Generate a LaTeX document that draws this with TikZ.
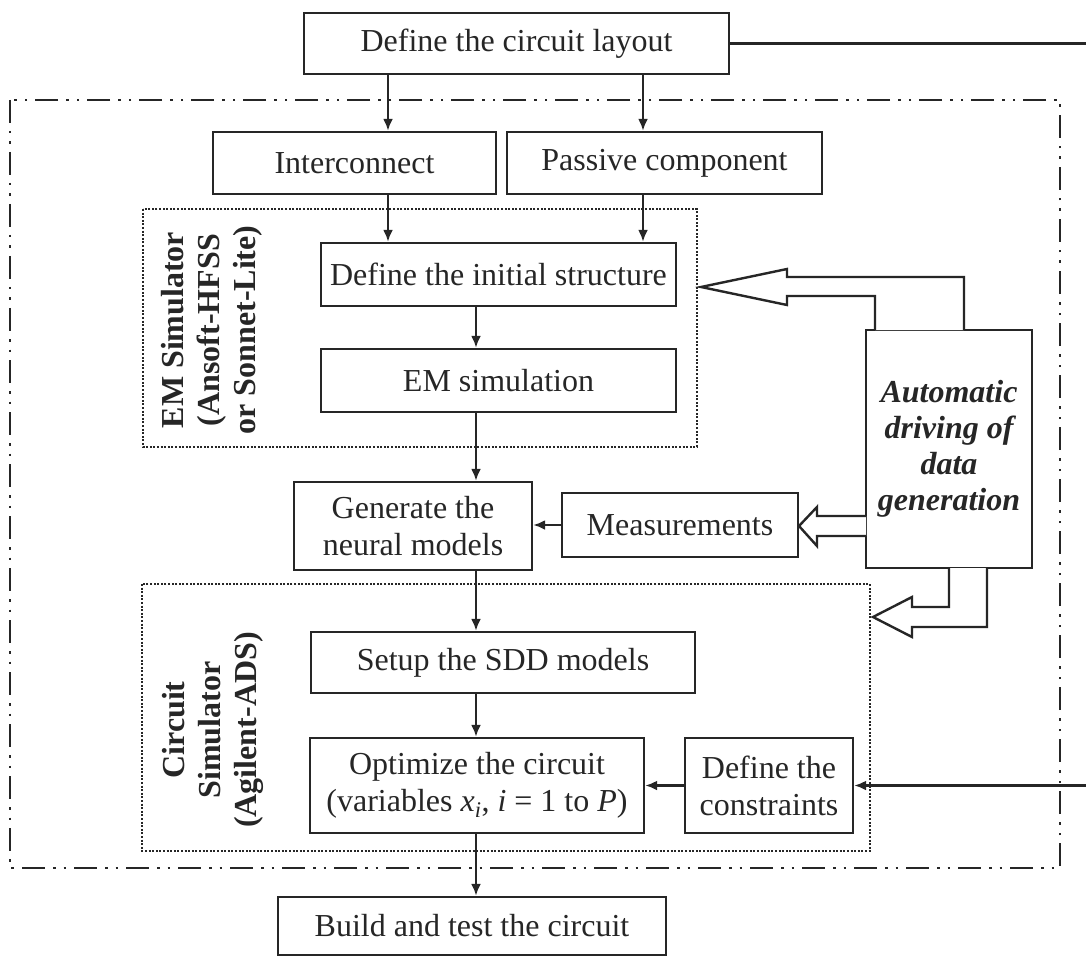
\documentclass[tikz,border=0pt]{standalone}
\usepackage{fontspec}
\setmainfont{Liberation Serif}
\usetikzlibrary{arrows.meta}
\definecolor{ink}{HTML}{262626}
\begin{document}
\begin{tikzpicture}[x=1pt,y=-1pt,
  every node/.style={text=ink, font=\fontsize{32}{37}\selectfont},
  box/.style={draw=ink, line width=2.4pt, inner sep=0pt, align=center},
  flow/.style={draw=ink, line width=2.4pt, -{Latex[length=12pt,width=10pt]}},
  hollow/.style={draw=ink, line width=2.4pt, fill=white, line join=miter},
  dashdot/.style={draw=ink, line width=2.2pt, dash pattern=on 23pt off 8pt on 2.5pt off 8pt on 2.5pt off 8pt},
  dotbox/.style={draw=ink, line width=2pt, dash pattern=on 2pt off 1.6pt},
  sidelabel/.style={rotate=90, align=center, font=\fontsize{32}{36}\selectfont\bfseries}]
\useasboundingbox (0,0) rectangle (1086,957);
\fill[white] (0,0) rectangle (1086,957);

% column positions of the vertical connectors
\coordinate (c1) at (388,0);
\coordinate (c2) at (643,0);
\coordinate (c3) at (476,0);

% enclosing frames
\draw[dashdot] (10,100) rectangle (1060,868);
\draw[dotbox] (143,209) rectangle (697,447);
\draw[dotbox] (142,584) rectangle (870,851);

% process boxes
\node[box, minimum width=425pt, minimum height=61pt] (layout) at (516.5,43.5) {Define the circuit layout};
\node[box, minimum width=283pt, minimum height=62pt] (inter) at (354.5,163) {Interconnect};
\node[box, minimum width=315pt, minimum height=62pt] (passive) at (664.5,163) {Passive component};
\node[box, minimum width=355pt, minimum height=63pt] (struct) at (498.5,274.5) {Define the initial structure};
\node[box, minimum width=355pt, minimum height=63pt] (emsim) at (498.5,380.5) {EM simulation};
\node[box, minimum width=238pt, minimum height=88pt] (gen) at (413,526) {Generate the\\neural models};
\node[box, minimum width=236pt, minimum height=64pt] (meas) at (680,525) {Measurements};
\node[box, minimum width=384pt, minimum height=61pt] (setup) at (503,662.5) {Setup the SDD models};
\node[box, minimum width=334pt, minimum height=95pt] (opt) at (477,785.5)
  {Optimize the circuit\\(variables \textit{x\textsubscript{i}}, \textit{i} = 1 to \textit{P})};
\node[box, minimum width=168pt, minimum height=95pt] (cons) at (769,785.5) {Define the\\constraints};
\node[box, minimum width=388pt, minimum height=58pt] (build) at (472,926) {Build and test the circuit};
\node[box, minimum width=166pt, minimum height=238pt, font=\fontsize{32}{36}\selectfont\bfseries\itshape] (auto) at (949,449)
  {Automatic\\driving of\\data\\generation};

% rotated simulator labels
\node[sidelabel] (emlabel) at (212,330) {EM Simulator\\(Ansoft-HFSS\\or Sonnet-Lite)};
\node[sidelabel] (cslabel) at (213,730) {Circuit\\Simulator\\(Agilent-ADS)};

% flow connectors
\draw[flow] (layout.south -| c1) -- (inter.north -| c1);
\draw[flow] (layout.south -| c2) -- (passive.north -| c2);
\draw[flow] (inter.south -| c1) -- (struct.north -| c1);
\draw[flow] (passive.south -| c2) -- (struct.north -| c2);
\draw[flow] (struct.south -| c3) -- (emsim.north -| c3);
\draw[flow] (emsim.south -| c3) -- (gen.north -| c3);
\draw[flow] (gen.south -| c3) -- (setup.north -| c3);
\draw[flow] (setup.south -| c3) -- (opt.north -| c3);
\draw[flow] (opt.south -| c3) -- (build.north -| c3);
\draw[flow] (meas.west) -- (gen.east |- meas.west);
\draw[flow] (cons.west) -- (opt.east |- cons.west);

% feedback from the layout to the constraints, routed past the right edge
\coordinate (rt) at (1094,43.5);
\coordinate (rb) at (1094,785.5);
\draw[flow] (layout.east) -- (rt) -- (rb) -- (cons.east);

% hollow block arrows from the automatic data generation
\draw[hollow] (875,330) -- (875,296) -- (787,296) -- (787,305) -- (701,287)
  -- (787,269) -- (787,277) -- (964,277) -- (964,330);
\draw[hollow] (866,516) -- (817,516) -- (817,507) -- (799,526) -- (817,546)
  -- (817,536) -- (866,536);
\draw[hollow] (949,568) -- (949,607) -- (912,607) -- (912,597) -- (873,617)
  -- (912,637) -- (912,627) -- (987,627) -- (987,568);
\end{tikzpicture}
\end{document}
